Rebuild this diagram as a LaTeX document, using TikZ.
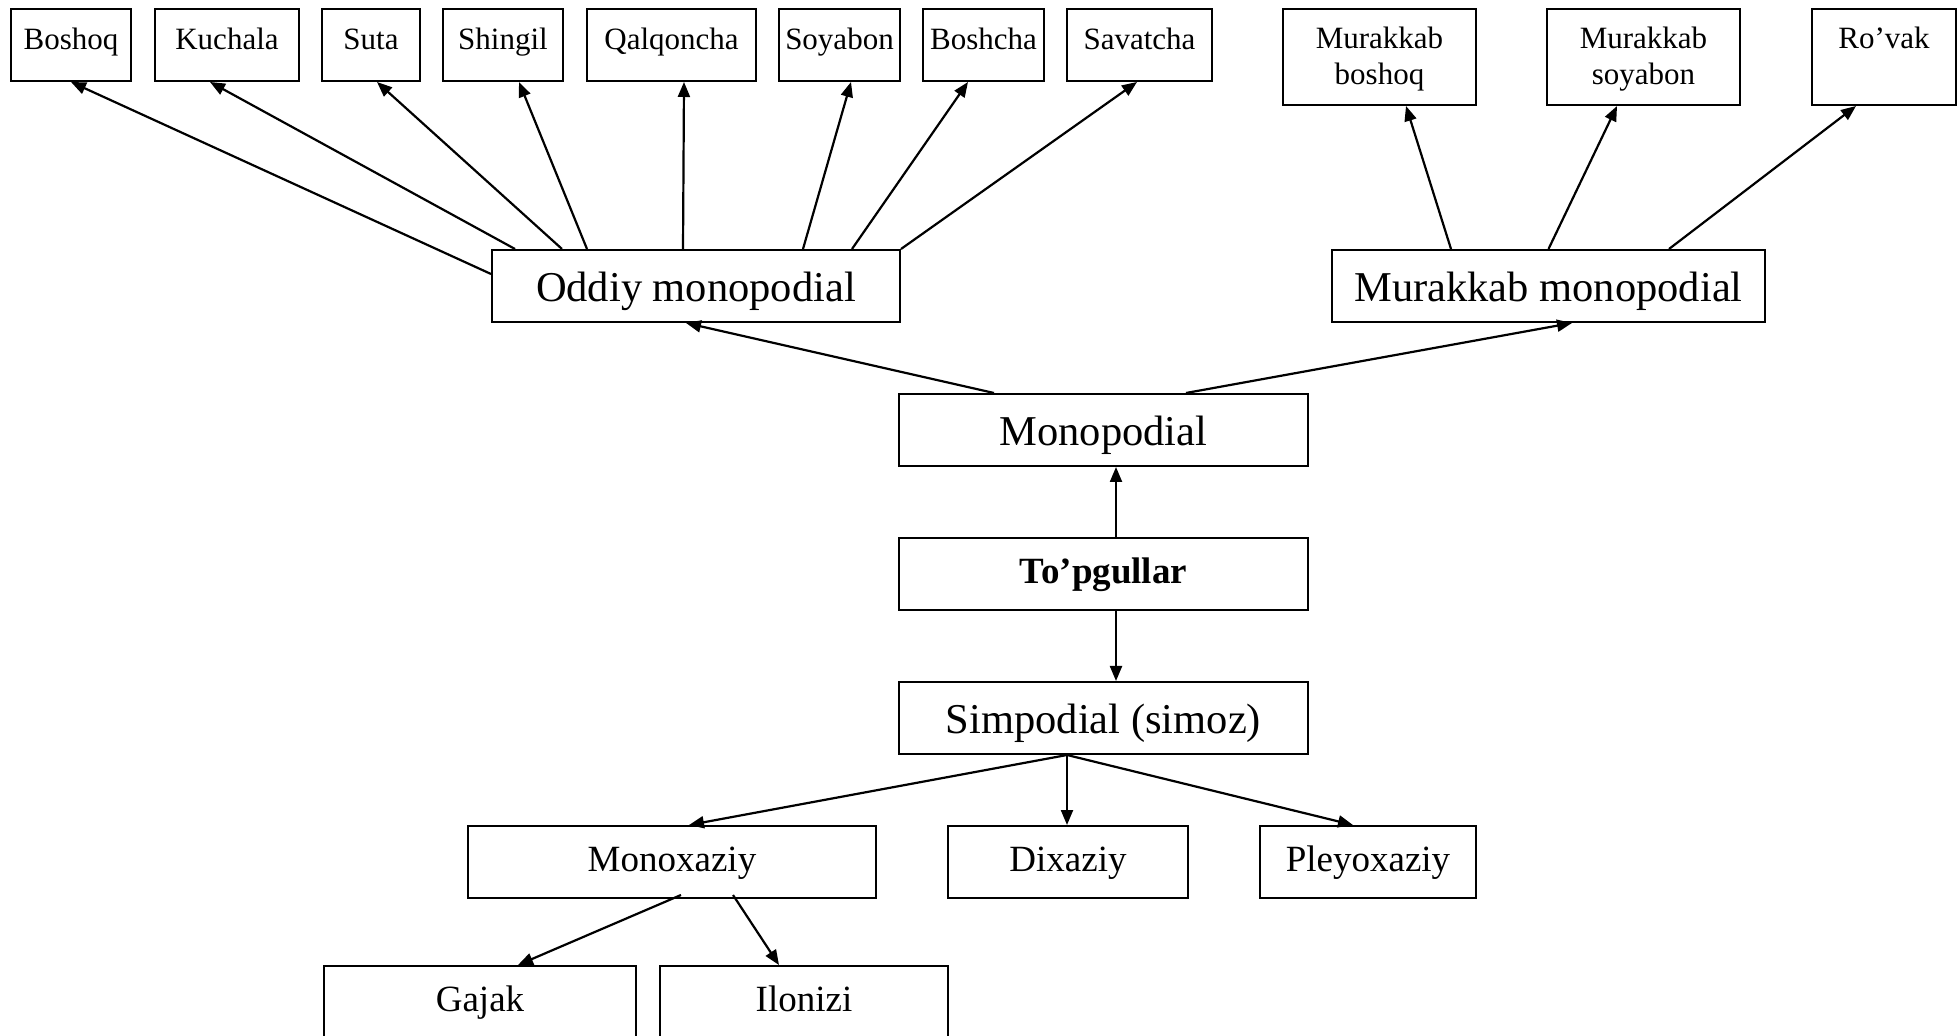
\documentclass[tikz,border=0pt]{standalone}
\usepackage{fontspec}
\setmainfont{Liberation Serif}
\usetikzlibrary{arrows.meta,calc}
\begin{document}
\begin{tikzpicture}[x=0.5pt,y=-0.5pt,
  box/.style={draw, line width=1pt, inner sep=0pt, minimum height=36pt},
  small/.style={font=\fontsize{15.5}{18}\selectfont, text height=10.85pt, text depth=5.89pt},
  smalltop/.style={font=\fontsize{15.5}{18}\selectfont, text height=10.85pt, text depth=18.85pt, minimum height=48pt},
  big/.style={font=\fontsize{21.25}{25}\selectfont, text height=19.1pt, text depth=3.6pt},
  mid/.style={font=\fontsize{18.5}{22}\selectfont, text height=13.9pt, text depth=4.25pt},
  arr/.style={line width=1.1pt, -{Triangle[length=7.5pt,width=6pt]}}]
\useasboundingbox (0,0) rectangle (1959,1036);
\clip (0,0) rectangle (1959,1036);
% top row
\node[box,small,minimum width=60pt]   (bos)  at (71,45)     {Boshoq};
\node[box,small,minimum width=72pt]   (kuc)  at (227,45)    {Kuchala};
\node[box,small,minimum width=49pt]   (suta) at (371,45)    {Suta};
\node[box,small,minimum width=60pt]   (shin) at (503,45)    {Shingil};
\node[box,small,minimum width=84.5pt] (qal)  at (671.5,45)  {Qalqoncha};
\node[box,small,minimum width=60.5pt] (soy)  at (839.5,45)  {Soyabon};
\node[box,small,minimum width=60.5pt] (bch)  at (983.5,45)  {Boshcha};
\node[box,small,minimum width=72.5pt] (sav)  at (1139.5,45) {Savatcha};
\node[box,smalltop,minimum width=96.5pt] (mbos) at (1379.5,57) {\begin{tabular}[t]{@{}c@{}}Murakkab\\boshoq\end{tabular}};
\node[box,smalltop,minimum width=96.5pt] (msoy) at (1643.5,57) {\begin{tabular}[t]{@{}c@{}}Murakkab\\soyabon\end{tabular}};
\node[box,smalltop,minimum width=72pt]   (rov)  at (1884,57)   {Ro’vak};
% second row
\node[box,big,minimum width=204pt]   (odd)  at (696,286)    {Oddiy monopodial};
\node[box,big,minimum width=216.5pt] (mmon) at (1548.5,286) {Murakkab monopodial};
% centre column
\node[box,big,minimum width=204.5pt] (mono) at (1103.5,430) {Monopodial};
\node[box,mid,minimum width=204.5pt] (top)  at (1103.5,574) {\textbf{To’pgullar}};
\node[box,big,minimum width=204.5pt] (simp) at (1103.5,718) {Simpodial (simoz)};
% lower rows
\node[box,mid,minimum width=204pt] (monox) at (672,862)  {Monoxaziy};
\node[box,mid,minimum width=120pt] (dix)   at (1068,862) {Dixaziy};
\node[box,mid,minimum width=108pt] (pley)  at (1368,862) {Pleyoxaziy};
\node[box,mid,minimum width=156pt] (gaj)   at (480,1002) {Gajak};
\node[box,mid,minimum width=144pt] (ilo)   at (804,1002) {Ilonizi};
% arrows: Oddiy monopodial
\draw[arr] ($(odd.west)+(0,-12)$) -- (bos.south);
\draw[arr] ($(odd.north west)+(24,0)$)  -- ($(kuc.south)+(-17,0)$);
\draw[arr] ($(odd.north west)+(71,0)$)  -- ($(suta.south)+(6,0)$);
\draw[arr] ($(odd.north west)+(96,0)$)  -- ($(shin.south)+(16,0)$);
\draw[arr] ($(odd.north west)+(192,0)$) -- ($(qal.south)+(12.5,0)$);
\draw[arr] ($(odd.north west)+(312,0)$) -- ($(soy.south)+(11.5,0)$);
\draw[arr] ($(odd.north west)+(361,0)$) -- ($(bch.south)+(-15.5,0)$);
\draw[arr] (odd.north east) -- ($(sav.south)+(-2.5,0)$);
% arrows: Murakkab monopodial
\draw[arr] ($(mmon.north west)+(120,0)$) -- ($(mbos.south)+(26.5,0)$);
\draw[arr] (mmon.north) -- ($(msoy.south)+(-26.5,0)$);
\draw[arr] ($(mmon.north west)+(338,0)$) -- ($(rov.south)+(-28,0)$);
% Monopodial
\draw[arr] ($(mono.north west)+(96,0)$)  -- ($(odd.south)+(-10,0)$);
\draw[arr] ($(mono.north west)+(288,0)$) -- ($(mmon.south)+(23.5,0)$);
% To'pgullar
\draw[arr] ($(top.north)+(12.5,0)$) -- ($(mono.south)+(12.5,0)$);
\draw[arr] ($(top.south)+(12.5,0)$) -- ($(simp.north)+(12.5,0)$);
% Simpodial
\draw[arr] ($(simp.south)+(-36.5,0)$) -- ($(monox.north)+(17,0)$);
\draw[arr] ($(simp.south)+(-36.5,0)$) -- ($(dix.north)+(-1,0)$);
\draw[arr] ($(simp.south)+(-36.5,0)$) -- ($(pley.north)+(-15,0)$);
% Monoxaziy
\draw[arr] ($(monox.south)+(9,-4)$)  -- ($(gaj.north)+(38,0)$);
\draw[arr] ($(monox.south)+(61,-4)$) -- ($(ilo.north)+(-25,0)$);
\end{tikzpicture}
\end{document}
